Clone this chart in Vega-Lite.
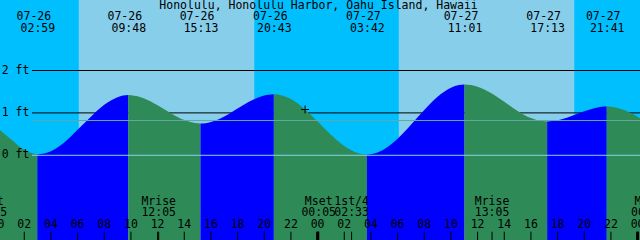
{
  "$schema": "https://vega.github.io/schema/vega-lite/v6.json",
  "width": 640,
  "height": 240,
  "autosize": "none",
  "padding": 0,
  "background": "white",
  "config": {
    "view": {"stroke": null},
    "text": {"font": "DejaVu Sans Mono", "fontSize": 11.5, "color": "black"}
  },
  "datasets": {
    "bands": [
      {"h0": 0.18, "h1": 6.1, "kind": "night"},
      {"h0": 6.1, "h1": 19.24, "kind": "day"},
      {"h0": 19.24, "h1": 30.1, "kind": "night"},
      {"h0": 30.1, "h1": 43.24, "kind": "day"},
      {"h0": 43.24, "h1": 48.18, "kind": "night"}
    ],
    "tide": [
      {"h": 0.18, "ft": 0.59, "seg": 0, "dir": "fall"},
      {"h": 1, "ft": 0.38, "seg": 0, "dir": "fall"},
      {"h": 2, "ft": 0.13, "seg": 0, "dir": "fall"},
      {"h": 2.5, "ft": 0.06, "seg": 0, "dir": "fall"},
      {"h": 2.983, "ft": 0.02, "seg": 0, "dir": "fall"},
      {"h": 2.983, "ft": 0.02, "seg": 1, "dir": "rise"},
      {"h": 3.5, "ft": 0.04, "seg": 1, "dir": "rise"},
      {"h": 4, "ft": 0.096, "seg": 1, "dir": "rise"},
      {"h": 5, "ft": 0.3, "seg": 1, "dir": "rise"},
      {"h": 6, "ft": 0.6, "seg": 1, "dir": "rise"},
      {"h": 7, "ft": 0.91, "seg": 1, "dir": "rise"},
      {"h": 8, "ft": 1.19, "seg": 1, "dir": "rise"},
      {"h": 9, "ft": 1.37, "seg": 1, "dir": "rise"},
      {"h": 9.4, "ft": 1.408, "seg": 1, "dir": "rise"},
      {"h": 9.8, "ft": 1.42, "seg": 1, "dir": "rise"},
      {"h": 9.8, "ft": 1.42, "seg": 2, "dir": "fall"},
      {"h": 10, "ft": 1.418, "seg": 2, "dir": "fall"},
      {"h": 11, "ft": 1.342, "seg": 2, "dir": "fall"},
      {"h": 12, "ft": 1.182, "seg": 2, "dir": "fall"},
      {"h": 13, "ft": 0.991, "seg": 2, "dir": "fall"},
      {"h": 14, "ft": 0.83, "seg": 2, "dir": "fall"},
      {"h": 14.8, "ft": 0.76, "seg": 2, "dir": "fall"},
      {"h": 15.217, "ft": 0.75, "seg": 2, "dir": "fall"},
      {"h": 15.217, "ft": 0.75, "seg": 3, "dir": "rise"},
      {"h": 15.6, "ft": 0.758, "seg": 3, "dir": "rise"},
      {"h": 16, "ft": 0.784, "seg": 3, "dir": "rise"},
      {"h": 17, "ft": 0.914, "seg": 3, "dir": "rise"},
      {"h": 18, "ft": 1.102, "seg": 3, "dir": "rise"},
      {"h": 19, "ft": 1.287, "seg": 3, "dir": "rise"},
      {"h": 20, "ft": 1.411, "seg": 3, "dir": "rise"},
      {"h": 20.3, "ft": 1.43, "seg": 3, "dir": "rise"},
      {"h": 20.717, "ft": 1.44, "seg": 3, "dir": "rise"},
      {"h": 20.717, "ft": 1.44, "seg": 4, "dir": "fall"},
      {"h": 21, "ft": 1.434, "seg": 4, "dir": "fall"},
      {"h": 22, "ft": 1.325, "seg": 4, "dir": "fall"},
      {"h": 23, "ft": 1.097, "seg": 4, "dir": "fall"},
      {"h": 24, "ft": 0.797, "seg": 4, "dir": "fall"},
      {"h": 25, "ft": 0.483, "seg": 4, "dir": "fall"},
      {"h": 26, "ft": 0.217, "seg": 4, "dir": "fall"},
      {"h": 27, "ft": 0.055, "seg": 4, "dir": "fall"},
      {"h": 27.3, "ft": 0.032, "seg": 4, "dir": "fall"},
      {"h": 27.7, "ft": 0.02, "seg": 4, "dir": "fall"},
      {"h": 27.7, "ft": 0.02, "seg": 5, "dir": "rise"},
      {"h": 28, "ft": 0.027, "seg": 5, "dir": "rise"},
      {"h": 29, "ft": 0.145, "seg": 5, "dir": "rise"},
      {"h": 30, "ft": 0.39, "seg": 5, "dir": "rise"},
      {"h": 31, "ft": 0.719, "seg": 5, "dir": "rise"},
      {"h": 32, "ft": 1.069, "seg": 5, "dir": "rise"},
      {"h": 33, "ft": 1.38, "seg": 5, "dir": "rise"},
      {"h": 34, "ft": 1.592, "seg": 5, "dir": "rise"},
      {"h": 34.6, "ft": 1.657, "seg": 5, "dir": "rise"},
      {"h": 35.017, "ft": 1.67, "seg": 5, "dir": "rise"},
      {"h": 35.017, "ft": 1.67, "seg": 6, "dir": "fall"},
      {"h": 35.5, "ft": 1.657, "seg": 6, "dir": "fall"},
      {"h": 36, "ft": 1.617, "seg": 6, "dir": "fall"},
      {"h": 37, "ft": 1.469, "seg": 6, "dir": "fall"},
      {"h": 38, "ft": 1.261, "seg": 6, "dir": "fall"},
      {"h": 39, "ft": 1.047, "seg": 6, "dir": "fall"},
      {"h": 40, "ft": 0.88, "seg": 6, "dir": "fall"},
      {"h": 41, "ft": 0.803, "seg": 6, "dir": "fall"},
      {"h": 41.217, "ft": 0.8, "seg": 6, "dir": "fall"},
      {"h": 41.217, "ft": 0.8, "seg": 7, "dir": "rise"},
      {"h": 41.6, "ft": 0.806, "seg": 7, "dir": "rise"},
      {"h": 42, "ft": 0.826, "seg": 7, "dir": "rise"},
      {"h": 43, "ft": 0.921, "seg": 7, "dir": "rise"},
      {"h": 44, "ft": 1.041, "seg": 7, "dir": "rise"},
      {"h": 45, "ft": 1.13, "seg": 7, "dir": "rise"},
      {"h": 45.3, "ft": 1.144, "seg": 7, "dir": "rise"},
      {"h": 45.683, "ft": 1.15, "seg": 7, "dir": "rise"},
      {"h": 45.683, "ft": 1.15, "seg": 8, "dir": "fall"},
      {"h": 46, "ft": 1.145, "seg": 8, "dir": "fall"},
      {"h": 47, "ft": 1.066, "seg": 8, "dir": "fall"},
      {"h": 48, "ft": 0.907, "seg": 8, "dir": "fall"},
      {"h": 48.18, "ft": 0.873, "seg": 8, "dir": "fall"}
    ],
    "grid": [
      {"ft": 2, "label": "2 ft"},
      {"ft": 1, "label": "1 ft"},
      {"ft": 0, "label": "0 ft"}
    ],
    "datums": [
      {"ft": 0.82, "name": "msl"},
      {"ft": 0, "name": "datum"}
    ],
    "now": [{"h": 23.06, "ft": 1.08}],
    "title": [{"h": 24.07, "label": "Honolulu, Honolulu Harbor, Oahu Island, Hawaii"}],
    "extremes": [
      {"h": 2.983, "date": "07-26", "time": "02:59"},
      {"h": 9.8, "date": "07-26", "time": "09:48"},
      {"h": 15.217, "date": "07-26", "time": "15:13"},
      {"h": 20.717, "date": "07-26", "time": "20:43"},
      {"h": 27.7, "date": "07-27", "time": "03:42"},
      {"h": 35.017, "date": "07-27", "time": "11:01"},
      {"h": 41.217, "date": "07-27", "time": "17:13"},
      {"h": 45.683, "date": "07-27", "time": "21:41"}
    ],
    "moon": [
      {"h": -0.58, "name": "Mset", "time": "23:25"},
      {"h": 12.083, "name": "Mrise", "time": "12:05"},
      {"h": 24.083, "name": "Mset", "time": "00:05"},
      {"h": 26.55, "name": "1st/4", "time": "02:33"},
      {"h": 37.083, "name": "Mrise", "time": "13:05"},
      {"h": 48.8, "name": "Mset", "time": "00:48"}
    ],
    "hours": [
      {"h": 0, "label": "00"}, {"h": 2, "label": "02"}, {"h": 4, "label": "04"},
      {"h": 6, "label": "06"}, {"h": 8, "label": "08"}, {"h": 10, "label": "10"},
      {"h": 12, "label": "12"}, {"h": 14, "label": "14"}, {"h": 16, "label": "16"},
      {"h": 18, "label": "18"}, {"h": 20, "label": "20"}, {"h": 22, "label": "22"},
      {"h": 24, "label": "00"}, {"h": 26, "label": "02"}, {"h": 28, "label": "04"},
      {"h": 30, "label": "06"}, {"h": 32, "label": "08"}, {"h": 34, "label": "10"},
      {"h": 36, "label": "12"}, {"h": 38, "label": "14"}, {"h": 40, "label": "16"},
      {"h": 42, "label": "18"}, {"h": 44, "label": "20"}, {"h": 46, "label": "22"},
      {"h": 48, "label": "00"}
    ]
  },
  "layer": [
    {
      "data": {"name": "bands"},
      "mark": {"type": "rect"},
      "encoding": {
        "x": {"field": "h0", "type": "quantitative", "scale": {"domain": [0.18, 48.18], "nice": false, "zero": false}, "axis": null},
        "x2": {"field": "h1"},
        "y": {"datum": 3.663, "type": "quantitative", "scale": {"domain": [-1.998, 3.663], "nice": false, "zero": false}, "axis": null},
        "y2": {"datum": -1.998},
        "color": {"field": "kind", "type": "nominal", "scale": {"domain": ["night", "day"], "range": ["#00BFFF", "#87CEEB"]}, "legend": null}
      }
    },
    {
      "data": {"name": "grid"},
      "transform": [{"filter": "datum.ft > 0"}],
      "mark": {"type": "rule", "color": "black", "strokeWidth": 1},
      "encoding": {
        "x": {"datum": 2.58, "type": "quantitative", "axis": null},
        "x2": {"datum": 48.18},
        "y": {"field": "ft", "type": "quantitative", "axis": null}
      }
    },
    {
      "data": {"name": "tide"},
      "mark": {"type": "area", "interpolate": "monotone", "clip": true},
      "encoding": {
        "x": {"field": "h", "type": "quantitative", "axis": null},
        "y": {"field": "ft", "type": "quantitative", "axis": null, "stack": null},
        "y2": {"datum": -1.998},
        "color": {"field": "dir", "type": "nominal", "scale": {"domain": ["rise", "fall"], "range": ["#0000FF", "#2E8B57"]}, "legend": null},
        "detail": {"field": "seg", "type": "nominal"}
      }
    },
    {
      "data": {"name": "datums"},
      "mark": {"type": "rule", "strokeWidth": 1},
      "encoding": {
        "x": {"datum": 2.58, "type": "quantitative", "axis": null},
        "x2": {"datum": 48.18},
        "y": {"field": "ft", "type": "quantitative", "axis": null},
        "color": {"field": "name", "type": "nominal", "scale": {"domain": ["msl", "datum"], "range": ["#62AAA4", "#8ED0EA"]}, "legend": null}
      }
    },
    {
      "data": {"name": "grid"},
      "mark": {"type": "text", "align": "left", "baseline": "middle", "clip": true},
      "encoding": {
        "x": {"datum": 0.31, "type": "quantitative", "axis": null},
        "y": {"field": "ft", "type": "quantitative", "axis": null},
        "text": {"field": "label"}
      }
    },
    {
      "data": {"name": "now"},
      "mark": {"type": "point", "shape": "M-1,0L1,0M0,-1L0,1", "size": 64, "filled": false, "stroke": "black", "strokeWidth": 1, "opacity": 1},
      "encoding": {
        "x": {"field": "h", "type": "quantitative", "axis": null},
        "y": {"field": "ft", "type": "quantitative", "axis": null}
      }
    },
    {
      "data": {"name": "title"},
      "mark": {"type": "text", "align": "center", "baseline": "middle", "clip": true},
      "encoding": {
        "x": {"field": "h", "type": "quantitative", "axis": null},
        "y": {"datum": 3.521, "type": "quantitative", "axis": null},
        "text": {"field": "label"}
      }
    },
    {
      "data": {"name": "extremes"},
      "mark": {"type": "text", "align": "center", "baseline": "middle", "dx": -3.5, "clip": true},
      "encoding": {
        "x": {"field": "h", "type": "quantitative", "axis": null},
        "y": {"datum": 3.262, "type": "quantitative", "axis": null},
        "text": {"field": "date"}
      }
    },
    {
      "data": {"name": "extremes"},
      "mark": {"type": "text", "align": "center", "baseline": "middle", "dx": 0.5, "clip": true},
      "encoding": {
        "x": {"field": "h", "type": "quantitative", "axis": null},
        "y": {"datum": 2.979, "type": "quantitative", "axis": null},
        "text": {"field": "time"}
      }
    },
    {
      "data": {"name": "moon"},
      "mark": {"type": "text", "align": "center", "baseline": "middle", "clip": true},
      "encoding": {
        "x": {"field": "h", "type": "quantitative", "axis": null},
        "y": {"datum": -1.094, "type": "quantitative", "axis": null},
        "text": {"field": "name"}
      }
    },
    {
      "data": {"name": "moon"},
      "mark": {"type": "text", "align": "center", "baseline": "middle", "clip": true},
      "encoding": {
        "x": {"field": "h", "type": "quantitative", "axis": null},
        "y": {"datum": -1.368, "type": "quantitative", "axis": null},
        "text": {"field": "time"}
      }
    },
    {
      "data": {"name": "hours"},
      "mark": {"type": "text", "align": "center", "baseline": "middle", "clip": true},
      "encoding": {
        "x": {"field": "h", "type": "quantitative", "axis": null},
        "y": {"datum": -1.644, "type": "quantitative", "axis": null},
        "text": {"field": "label"}
      }
    },
    {
      "data": {"name": "hours"},
      "mark": {"type": "rule", "color": "black", "strokeWidth": 1, "clip": true},
      "encoding": {
        "x": {"field": "h", "type": "quantitative", "axis": null},
        "y": {"datum": -1.802, "type": "quantitative", "axis": null},
        "y2": {"datum": -1.998}
      }
    },
    {
      "data": {"name": "hours"},
      "transform": [{"filter": "datum.h % 24 == 0"}],
      "mark": {"type": "rule", "color": "black", "strokeWidth": 3, "clip": true},
      "encoding": {
        "x": {"field": "h", "type": "quantitative", "axis": null},
        "y": {"datum": -1.802, "type": "quantitative", "axis": null},
        "y2": {"datum": -1.998}
      }
    },
    {
      "data": {"name": "moon"},
      "mark": {"type": "rule", "color": "black", "strokeWidth": 1, "clip": true},
      "encoding": {
        "x": {"field": "h", "type": "quantitative", "axis": null},
        "y": {"datum": -1.802, "type": "quantitative", "axis": null},
        "y2": {"datum": -1.998}
      }
    }
  ],
  "resolve": {"scale": {"color": "independent"}}
}
